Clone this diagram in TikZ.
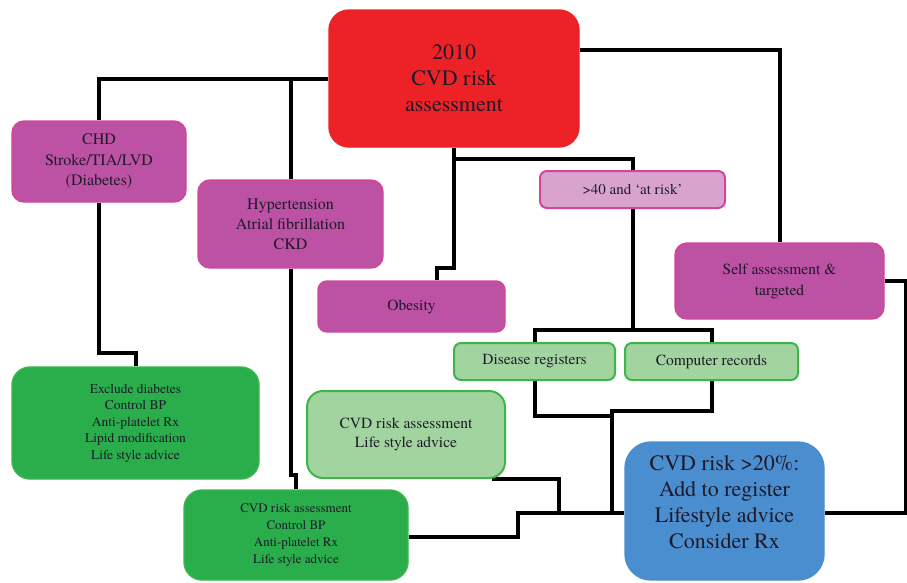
\documentclass[tikz,border=0pt]{standalone}
\usepackage{fontspec}
\setmainfont{TeX Gyre Termes}
\usetikzlibrary{backgrounds}
\definecolor{redf}{HTML}{ED2226}
\definecolor{magf}{HTML}{BD51A3}
\definecolor{magd}{HTML}{D6449A}
\definecolor{pinkf}{HTML}{D8A4CE}
\definecolor{dgreen}{HTML}{29AE4B}
\definecolor{dgreend}{HTML}{3DB54F}
\definecolor{lgreenf}{HTML}{A1D49F}
\definecolor{lgreend}{HTML}{3DB54A}
\definecolor{bluef}{HTML}{4A8ECF}
\definecolor{txt}{HTML}{1E1A2A}
\tikzset{
  box/.style={align=center, inner sep=0pt, text=txt, line width=1.4pt},
  redbox/.style={box, fill=redf, draw=redf, rounded corners=20pt, font=\fontsize{22}{26}\selectfont},
  magbox/.style={box, fill=magf, draw=magd, rounded corners=12pt},
  pinkbox/.style={box, fill=pinkf, draw=magd, line width=2pt, rounded corners=7pt, font=\fontsize{15}{19}\selectfont},
  dgbox/.style={box, fill=dgreen, draw=dgreend, rounded corners=18pt},
  lgbox/.style={box, fill=lgreenf, draw=lgreend, line width=2pt},
  bluebox/.style={box, fill=bluef, draw=bluef, rounded corners=26pt},
  conn/.style={line width=4pt, draw=black}
}
\begin{document}
\begin{tikzpicture}[x=1pt,y=-1pt]
\useasboundingbox (0,0) rectangle (907,582);
% nodes
\node[redbox, minimum width=250pt, minimum height=137pt] (red) at (454,78.5) {2010\\CVD risk\\assessment};
\node[magbox, minimum width=174pt, minimum height=81pt, font=\fontsize{16}{20.5}\selectfont] (chd) at (99,161.5) {CHD\\Stroke/TIA/LVD\\(Diabetes)};
\node[magbox, minimum width=185pt, minimum height=88pt, font=\fontsize{16}{20}\selectfont] (hyp) at (290.5,224) {Hypertension\\Atrial fibrillation\\CKD};
\node[magbox, minimum width=187pt, minimum height=51pt, rounded corners=9pt, font=\fontsize{15.5}{19}\selectfont] (obes) at (411.5,306.5) {Obesity};
\node[pinkbox, minimum width=185pt, minimum height=37pt] (at40) at (632.5,189.5) {>40 and ‘at risk’};
\node[magbox, minimum width=209pt, minimum height=76pt, rounded corners=12pt, font=\fontsize{15.5}{21}\selectfont] (self) at (779.5,281) {Self assessment \&\\targeted};
\node[lgbox, rounded corners=7pt, minimum width=161pt, minimum height=37pt, font=\fontsize{15.5}{19}\selectfont] (dreg) at (534.5,361.5) {Disease registers};
\node[lgbox, rounded corners=7pt, minimum width=173pt, minimum height=37pt, font=\fontsize{15.5}{19}\selectfont] (crec) at (711.5,361.5) {Computer records};
\node[dgbox, minimum width=247pt, minimum height=112pt, font=\fontsize{13.5}{16.5}\selectfont] (excl) at (135.5,423) {Exclude diabetes\\Control BP\\Anti-platelet Rx\\Lipid modification\\Life style advice};
\node[lgbox, rounded corners=16pt, minimum width=198pt, minimum height=87pt, font=\fontsize{15.5}{19.5}\selectfont] (lgreen) at (406,434.5) {CVD risk assessment\\Life style advice};
\node[dgbox, minimum width=224pt, minimum height=90pt, font=\fontsize{13}{16.7}\selectfont] (bgreen) at (296,535) {CVD risk assessment\\Control BP\\Anti-platelet Rx\\Life style advice};
\node[bluebox, minimum width=199pt, minimum height=138pt] (blue) at (724.5,511) {};
\node[align=center, text=txt, inner sep=0pt, font=\fontsize{22}{26}\selectfont] (bluetxt) at (724.5,502) {CVD risk >20\%:\\Add to register\\Lifestyle advice\\Consider Rx};
% connectors
\begin{scope}[on background layer]
\fill[white] (0,0) rectangle (907,582);
\draw[conn] (red.west) -| (chd.north);
\draw[conn] (hyp.north) -- (hyp.north |- red.west);
\draw[conn] (chd.south) -- (chd.south |- 0,353) -| (excl.north);
\draw[conn] (hyp.south) -- (hyp.south |- 0,475) -| (bgreen.north);
\draw[conn] (red.south) -- (red.south |- 0,268) -| (obes.north -| 437,0);
\draw[conn] (red.south |- 0,159) -| (at40.north);
\draw[conn] (red.east |- 0,50) -| (self.north);
\draw[conn] (at40.south) -- (at40.south |- 0,331);
\draw[conn] (dreg.north) -- ++(0,-12) -| (crec.north);
\draw[conn] (dreg.south) |- (612,416);
\draw[conn] (crec.south) |- (612,411) -- (612,513);
\draw[conn] (lgreen.south -| 492,0) -| (559,513);
\draw[conn] (bgreen.east |- 0,537) -| (518,513) -- (blue.west |- 0,513);
\draw[conn] (self.east) -| (906,513) -- (blue.east |- 0,513);
\end{scope}
\end{tikzpicture}
\end{document}
